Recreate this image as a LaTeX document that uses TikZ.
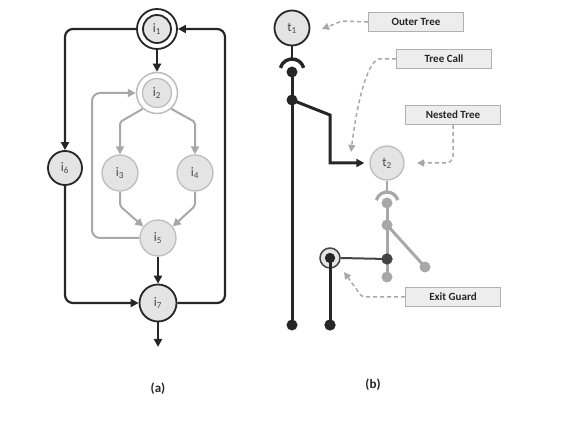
\documentclass[tikz,border=0pt]{standalone}
\usepackage{fontspec}
\setmainfont{Carlito}
\usetikzlibrary{arrows.meta}
\definecolor{dk}{HTML}{262626}
\definecolor{gr}{HTML}{A8A8A8}
\definecolor{grl}{HTML}{BDBDBD}
\definecolor{fl}{HTML}{E4E4E4}
\definecolor{bx}{HTML}{EDEDED}
\definecolor{bxb}{HTML}{B0B0B0}
\definecolor{mid}{HTML}{444444}
\begin{document}
\begin{tikzpicture}[x=1pt,y=-1pt,
  tip/.style={-{Triangle[length=8pt,width=8pt]}},
  smalltip/.style={-{Triangle[length=7pt,width=7pt]}},
  lab/.style={font=\fontsize{13}{14}\selectfont,text=dk!85},
  dknode/.style={circle,draw=dk,line width=1.8pt,fill=fl,minimum size=34pt,inner sep=0pt,lab},
  grnode/.style={circle,draw=grl,line width=1.3pt,fill=fl,minimum size=36pt,inner sep=0pt,lab},
  ringdk/.style={circle,draw=dk,line width=1.8pt,minimum size=40pt,inner sep=0pt},
  ringgr/.style={circle,draw=grl,line width=1.5pt,minimum size=41pt,inner sep=0pt},
  dkedge/.style={draw=dk,line width=2.2pt,tip,rounded corners=8pt},
  gredge/.style={draw=gr,line width=2pt,tip,rounded corners=8pt},
  callout/.style={draw=bxb,line width=0.9pt,fill=bx,minimum width=95pt,minimum height=19pt,inner sep=0pt,font=\fontsize{11}{12}\bfseries\selectfont,text=dk},
  dashy/.style={draw=gr,line width=1.5pt,dash pattern=on 4pt off 3pt,smalltip},
  dotdk/.style={circle,fill=dk,minimum size=11pt,inner sep=0pt},
  dotgr/.style={circle,fill=gr,minimum size=11pt,inner sep=0pt},
  captxt/.style={font=\fontsize{13}{14}\bfseries\selectfont,text=dk}
]
\useasboundingbox (0,0) rectangle (570,435);

% ---------- panel (a) ----------
\node[ringdk] (i1o) at (157,29) {};
\node[dknode,minimum size=28pt] (i1) at (157,29) {i\textsubscript{1}};
\node[ringgr] (i2o) at (157,93) {};
\node[grnode,minimum size=29pt] (i2) at (157,93) {i\textsubscript{2}};
\node[grnode] (i3) at (120,173) {i\textsubscript{3}};
\node[grnode] (i4) at (195,173) {i\textsubscript{4}};
\node[dknode] (i6) at (65,168) {i\textsubscript{6}};
\node[grnode] (i5) at (158,238) {i\textsubscript{5}};
\node[dknode,minimum size=37pt] (i7) at (158,303) {i\textsubscript{7}};

\coordinate (a23) at (120,122);
\coordinate (a24) at (195,122);
\coordinate (a35) at (120,206);
\coordinate (a45) at (195,206);
\coordinate (lp) at (92,160);
\coordinate (rc) at (225,160);
\coordinate (out) at (158,347);

\draw[dkedge] (i1o.west) -| (i6.north);
\draw[dkedge] (i1o.south) -- (i2o.north);
\draw[dkedge] (i7.east) -| (rc) |- (i1o.east);
\draw[dkedge] (i6.south) |- (i7.west);
\draw[gredge,rounded corners=2pt] (i2o.228) -- (a23) -- (i3.north);
\draw[gredge,rounded corners=2pt] (i2o.312) -- (a24) -- (i4.north);
\draw[gredge,rounded corners=2pt] (i3.south) -- (a35) -- (i5.142);
\draw[gredge,rounded corners=2pt] (i4.south) -- (a45) -- (i5.38);
\draw[gredge] (i5.west) -| (lp) |- (i2o.west);
\draw[dkedge] (i5.south) -- (i7.north);
\draw[dkedge] (i7.south) -- (out);

\node[captxt] (ca) at (158,389) {(a)};

% ---------- panel (b) ----------
\node[dknode,minimum size=35pt] (t1) at (292,28) {t\textsubscript{1}};
\node[grnode,minimum size=34pt] (t2) at (387,163) {t\textsubscript{2}};

\coordinate (s1) at (292,58);
\coordinate (b1) at (330,115);
\coordinate (b2) at (330,163);
\coordinate (s2) at (387,192);

% dark tree t1
\draw[dk,line width=2pt] (t1.south) -- (s1);
\draw[dk,line width=3.4pt] (292,71) ++(195:12) arc[start angle=195,end angle=345,radius=12];
\node[dotdk] (d1) at (292,72) {};
\node[dotdk] (d2) at (292,100) {};
\node[dotdk] (d3) at (292,325) {};
\draw[dk,line width=3pt] (d1.center) -- (d3.center);
\draw[dk,line width=3pt,tip,shorten >=5pt] (d2.center) -- (b1) -- (b2) -- (t2.west);

% gray tree t2
\draw[gr,line width=2pt] (t2.south) -- (s2);
\draw[gr,line width=3.2pt] (387,203) ++(195:11) arc[start angle=195,end angle=345,radius=11];
\node[dotgr] (g1) at (387,203) {};
\node[dotgr] (g2) at (387,225) {};
\node[dotgr] (g3) at (425,267) {};
\node[dotgr] (g5) at (387,277) {};
\draw[gr,line width=3pt] (g1.center) -- (g5.center);
\draw[gr,line width=3pt] (g2.center) -- (g3.center);

% exit guard
\node[circle,draw=mid,line width=1.5pt,fill=fl,minimum size=20pt,inner sep=0pt] (eg) at (330,258) {};
\node[dotdk,minimum size=10pt] (egd) at (330,258) {};
\node[dotdk] (d4) at (330,325) {};
\node[circle,fill=mid,minimum size=11pt,inner sep=0pt] (g4) at (387,259) {};
\draw[mid,line width=2pt] (eg.east) -- (g4.center);
\draw[dk,line width=3pt] (egd.center) -- (d4.center);
\node[circle,fill=mid,minimum size=11pt,inner sep=0pt] (g4b) at (387,259) {};
\node[dotdk] (d4b) at (330,325) {};
\node[dotdk,minimum size=10pt] (egb) at (330,258) {};

% callouts
\node[callout] (c1) at (416,22) {Outer Tree};
\node[callout] (c2) at (444,59) {Tree Call};
\node[callout] (c3) at (453,115) {Nested Tree};
\node[callout] (c4) at (453,297) {Exit Guard};
\coordinate (e1) at (322,29);
\coordinate (e2) at (351,152);
\coordinate (e3) at (417,163);
\coordinate (e4) at (344,272);
\coordinate (k1) at (342,21);
\coordinate (k2) at (379,59);
\coordinate (k4) at (362,297);

\draw[dashy] (c1.west) -- (k1) -- (e1);
\draw[dashy] (c2.west) -- (k2) .. controls (366,62) and (356,110) .. (e2);
\draw[dashy,rounded corners=7pt] (c3.south) |- (e3);
\draw[dashy,rounded corners=3pt] (c4.west) -- (k4) -- (e4);

\node[captxt] (cb) at (373,385) {(b)};
\end{tikzpicture}
\end{document}
